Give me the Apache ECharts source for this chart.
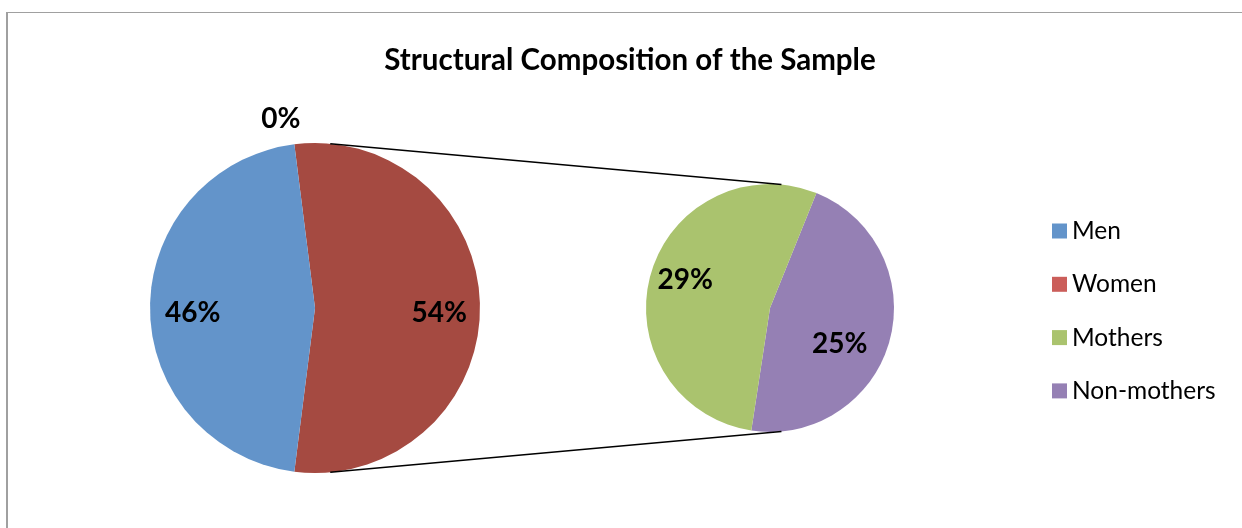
<!DOCTYPE html>
<html>
<head>
<meta charset="utf-8">
<script src="https://cdn.jsdelivr.net/npm/echarts@6/dist/echarts.min.js"></script>
<style>
  html, body { margin: 0; padding: 0; background: #ffffff; }
  #chart { width: 1242px; height: 528px; }
</style>
</head>
<body>
<div id="chart"></div>
<script>
// Sample composition: gender split, with women broken down in a secondary pie
const titleText = 'Structural Composition of the Sample';
const mainNames = ['Men', 'Women'];
const mainValues = [46, 0];
const detailNames = ['Mothers', 'Non-mothers'];
const detailValues = [29, 25];
const combinedName = 'Other';

// Colours
const colors = {
  'Men': '#6394ca',
  'Women': '#cb5e5a',
  'Other': '#a54a41',
  'Mothers': '#aac36e',
  'Non-mothers': '#9580b4'
};

// Layout
const mainCenter = [315, 308];
const mainRadius = 165;
const detailCenter = [770, 308];
const detailRadius = 124;
const connectorAngle = 5.3; // degrees clockwise from 12 o'clock
const FONT = 'Lato, "Open Sans", sans-serif';

const combinedValue = detailValues.reduce((a, b) => a + b, 0);

// Main pie order (clockwise from start): Women, combined women slice, Men
const mainData = [
  { name: mainNames[1], value: mainValues[1] },
  { name: combinedName, value: combinedValue },
  { name: mainNames[0], value: mainValues[0] }
];
const detailData = [
  { name: detailNames[1], value: detailValues[1] },
  { name: detailNames[0], value: detailValues[0] }
];

function colored(data) {
  return data.map(d => Object.assign({}, d, { itemStyle: { color: colors[d.name] } }));
}

const labelStyle = {
  color: '#000',
  fontFamily: FONT,
  fontWeight: 'bold',
  fontSize: 28,
  formatter: '{c}%'
};

function pointOn(center, r, degFromTop) {
  const a = degFromTop * Math.PI / 180;
  return [center[0] + r * Math.sin(a), center[1] - r * Math.cos(a)];
}
const topA = pointOn(mainCenter, mainRadius, connectorAngle);
const topB = pointOn(detailCenter, detailRadius, connectorAngle);
const botA = pointOn(mainCenter, mainRadius, 180 - connectorAngle);
const botB = pointOn(detailCenter, detailRadius, 180 - connectorAngle);

// small nudges for the percentage labels
const mainLabelShift = [{ dx: -5, dy: 1 }, { dx: 0, dy: 5 }, { dx: 2, dy: 5 }];
const detailLabelShift = [{ dx: -18, dy: 12 }, { dx: 3, dy: -4 }];

const chart = echarts.init(document.getElementById('chart'), null, { renderer: 'canvas' });

chart.setOption({
  backgroundColor: '#ffffff',
  animation: false,
  title: {
    text: titleText,
    left: 630,
    textAlign: 'center',
    top: 45,
    padding: 0,
    textStyle: { fontFamily: FONT, fontWeight: 'bold', fontSize: 29.5, color: '#000' }
  },
  legend: {
    orient: 'vertical',
    left: 1052,
    top: 217,
    padding: 0,
    icon: 'rect',
    itemWidth: 15,
    itemHeight: 15,
    itemGap: 25.3,
    selectedMode: false,
    data: [mainNames[0], mainNames[1], detailNames[0], detailNames[1]],
    textStyle: { fontFamily: FONT, fontSize: 24.5, color: '#000', lineHeight: 24, padding: [4, 0, 0, 0] }
  },
  graphic: [
    // chart frame
    { type: 'line', silent: true, shape: { x1: 6, y1: 12.5, x2: 1242, y2: 12.5 }, style: { stroke: '#a0a0a0', lineWidth: 1 } },
    { type: 'line', silent: true, shape: { x1: 7, y1: 12, x2: 7, y2: 528 }, style: { stroke: '#a0a0a0', lineWidth: 2 } },
    // series lines joining the combined slice to the detail pie
    { type: 'line', silent: true, z: 10, shape: { x1: topA[0], y1: topA[1], x2: topB[0], y2: topB[1] }, style: { stroke: '#000', lineWidth: 1.5 } },
    { type: 'line', silent: true, z: 10, shape: { x1: botA[0], y1: botA[1], x2: botB[0], y2: botB[1] }, style: { stroke: '#000', lineWidth: 1.5 } }
  ],
  series: [
    {
      type: 'pie',
      name: 'main',
      center: mainCenter,
      radius: [0, mainRadius],
      startAngle: 97.2,
      clockwise: true,
      avoidLabelOverlap: false,
      silent: true,
      label: { show: false },
      labelLine: { show: false },
      itemStyle: { borderWidth: 0 },
      data: colored(mainData)
    },
    {
      type: 'pie',
      name: 'detail',
      center: detailCenter,
      radius: [0, detailRadius],
      startAngle: 68,
      clockwise: true,
      avoidLabelOverlap: false,
      silent: true,
      label: { show: false },
      labelLine: { show: false },
      itemStyle: { borderWidth: 0 },
      data: colored(detailData)
    },
    // label rings (transparent) so the percentages sit out toward the rim
    {
      type: 'pie',
      name: 'mainLabels',
      center: mainCenter,
      radius: [mainRadius * 0.47, mainRadius],
      startAngle: 97.2,
      clockwise: true,
      avoidLabelOverlap: false,
      silent: true,
      z: 5,
      itemStyle: { color: 'transparent', borderWidth: 0 },
      label: Object.assign({ show: true, position: 'inside' }, labelStyle),
      labelLine: { show: false, length: 27, length2: 0 },
      labelLayout: function (p) {
        const s = mainLabelShift[p.dataIndex];
        return p.dataIndex === 0 ? { align: 'center', dx: s.dx, dy: s.dy } : { dx: s.dx, dy: s.dy };
      },
      data: mainData.map((d, i) => i === 0
        ? Object.assign({}, d, { label: { position: 'outside' } })
        : d)
    },
    {
      type: 'pie',
      name: 'detailLabels',
      center: detailCenter,
      radius: [detailRadius * 0.42, detailRadius],
      startAngle: 68,
      clockwise: true,
      avoidLabelOverlap: false,
      silent: true,
      z: 5,
      itemStyle: { color: 'transparent', borderWidth: 0 },
      label: Object.assign({ show: true, position: 'inside' }, labelStyle),
      labelLine: { show: false },
      labelLayout: function (p) {
        const s = detailLabelShift[p.dataIndex];
        return { dx: s.dx, dy: s.dy };
      },
      data: detailData
    }
  ]
});
</script>
</body>
</html>
